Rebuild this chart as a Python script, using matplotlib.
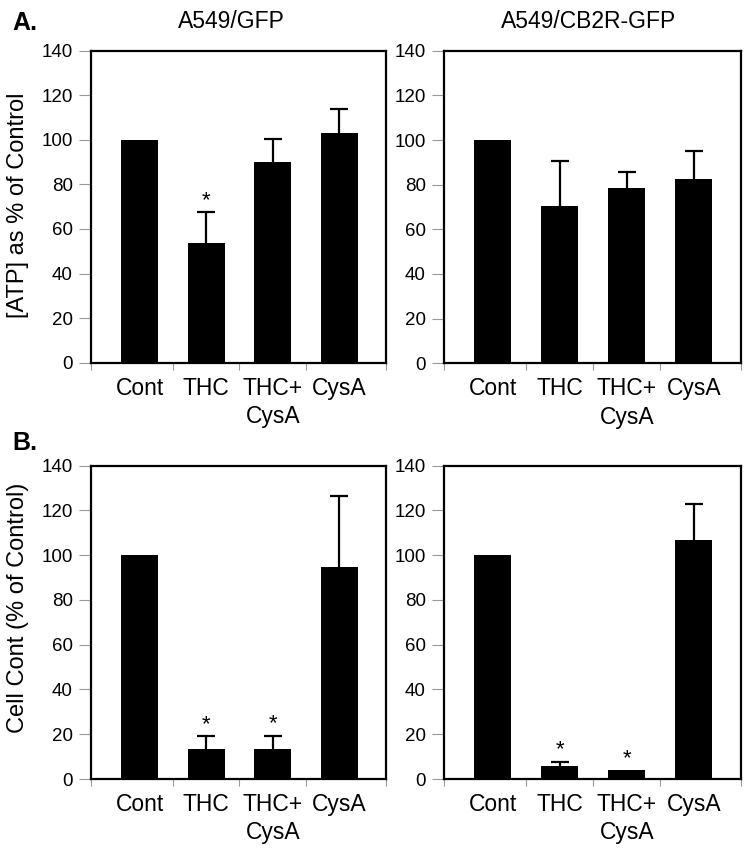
import matplotlib
matplotlib.use("Agg")
import matplotlib.pyplot as plt
import numpy as np

plt.rcParams['font.family'] = ['Liberation Sans', 'DejaVu Sans']

categories = ["Cont", "THC", "THC+\nCysA", "CysA"]

atp_gfp = [100, 53.8, 89.9, 103.0]
atp_gfp_err = [0, 13.7, 10.5, 10.8]
atp_gfp_sig = [False, True, False, False]

atp_cb2r = [100, 70.5, 78.3, 82.4]
atp_cb2r_err = [0, 20.2, 7.5, 12.8]
atp_cb2r_sig = [False, False, False, False]

cell_gfp = [100, 13.4, 13.4, 94.6]
cell_gfp_err = [0, 5.7, 5.8, 31.9]
cell_gfp_sig = [False, True, True, False]

cell_cb2r = [100, 5.8, 3.9, 106.8]
cell_cb2r_err = [0, 1.8, 0, 16.2]
cell_cb2r_sig = [False, True, True, False]

yticks = [0, 20, 40, 60, 80, 100, 120, 140]

W, H = 750, 856
fig = plt.figure(figsize=(W / 100, H / 100), dpi=100)

def px_axes(l, t, r, b):
    return fig.add_axes([l / W, 1 - b / H, (r - l) / W, (b - t) / H])

def draw(ax, vals, errs, sig):
    x = np.arange(len(categories))
    ax.bar(x, vals, width=0.55, color='black', zorder=2)
    cap = 0.135
    for xi, v, e in zip(x, vals, errs):
        if e > 0:
            ax.vlines(xi, v, v + e, colors='black', linewidth=1.6, zorder=3)
            ax.hlines(v + e, xi - cap, xi + cap, colors='black', linewidth=1.6, zorder=3)
    for xi, v, e, s in zip(x, vals, errs, sig):
        if s:
            ax.annotate('*', (xi, v + e), xytext=(0, 1), textcoords='offset points',
                        ha='center', va='bottom', fontsize=16)
    ax.set_xlim(-0.73, 3.70)
    ax.set_ylim(0, 140)
    ax.set_yticks(yticks)
    ax.set_yticklabels([str(t) for t in yticks], fontsize=13.5)
    ax.set_xticks(x)
    ax.set_xticklabels(categories, fontsize=16.5, linespacing=1.3)
    ax.set_xticks([-0.73, 0.5, 1.5, 2.5, 3.70], minor=True)
    ax.tick_params(axis='x', which='major', length=0, pad=10)
    ax.tick_params(axis='x', which='minor', length=5, width=0.8, color='#999999', direction='out')
    ax.tick_params(axis='y', which='major', length=9, width=0.8, color='#999999', direction='out', pad=4)
    for sp in ax.spines.values():
        sp.set_linewidth(1.6)
        sp.set_color('black')

ax1 = px_axes(91, 50.7, 386, 362.7)
ax2 = px_axes(444, 50.7, 740.7, 363.3)
ax3 = px_axes(91, 465.7, 386, 779)
ax4 = px_axes(444, 465.7, 740.7, 779)

draw(ax1, atp_gfp, atp_gfp_err, atp_gfp_sig)
draw(ax2, atp_cb2r, atp_cb2r_err, atp_cb2r_sig)
draw(ax3, cell_gfp, cell_gfp_err, cell_gfp_sig)
draw(ax4, cell_cb2r, cell_cb2r_err, cell_cb2r_sig)

fig.text(231 / W, 1 - 28.5 / H, "A549/GFP", ha='center', va='baseline', fontsize=16.5)
fig.text(589 / W, 1 - 28.5 / H, "A549/CB2R-GFP", ha='center', va='baseline', fontsize=16.5)
fig.text(12.5 / W, 1 - 30 / H, "A.", ha='left', va='baseline', fontsize=18, fontweight='bold')
fig.text(12.5 / W, 1 - 450 / H, "B.", ha='left', va='baseline', fontsize=18, fontweight='bold')
fig.text(18 / W, 1 - 205 / H, "[ATP] as % of Control", rotation=90, ha='center', va='center', fontsize=17)
fig.text(18 / W, 1 - 608 / H, "Cell Cont (% of Control)", rotation=90, ha='center', va='center', fontsize=17)

fig.savefig("out.png", dpi=100)
